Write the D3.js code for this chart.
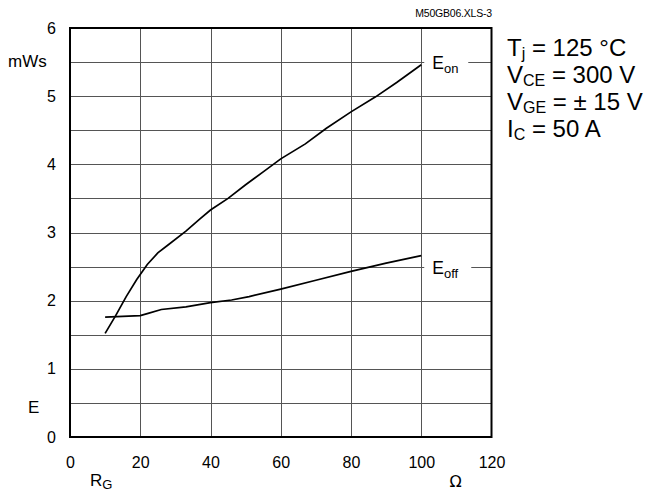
<!DOCTYPE html>
<html>
<head>
<meta charset="utf-8">
<script src="https://cdn.jsdelivr.net/npm/d3@7"></script>
<style>
  html, body { margin: 0; padding: 0; background: #fff; }
  svg { display: block; font-family: "Liberation Sans", Arial, sans-serif; }
</style>
</head>
<body>
<svg id="chart" width="652" height="493"></svg>
<script>
// Switching energy vs. gate resistance (Tj = 125 °C)
const rgOn  = [10, 13, 16, 19, 22, 25, 28, 33, 37, 40, 45, 50, 55, 60, 67, 73, 80, 87, 93, 100];
const eOn   = [1.52, 1.78, 2.06, 2.31, 2.53, 2.70, 2.82, 3.02, 3.20, 3.33, 3.50, 3.70, 3.89, 4.08, 4.30, 4.53, 4.77, 4.99, 5.20, 5.46];
const rgOff = [10, 15, 20, 22, 26, 33, 40, 46, 51, 60, 70, 80, 90, 100];
const eOff  = [1.76, 1.77, 1.78, 1.81, 1.87, 1.91, 1.97, 2.01, 2.06, 2.17, 2.30, 2.43, 2.55, 2.66];
const xTicks = [0, 20, 40, 60, 80, 100, 120];
const yTicks = [0, 1, 2, 3, 4, 5, 6];
const yGrid  = [0.5, 1, 1.5, 2, 2.5, 3, 3.5, 4, 4.5, 5, 5.5];
const conditions = [
  ["T", "j", " = 125 °C"],
  ["V", "CE", " = 300 V"],
  ["V", "GE", " = ± 15 V"],
  ["I", "C", " = 50 A"]
];

const svg = d3.select("#chart");
const x = d3.scaleLinear().domain([0, 120]).range([70, 491.5]);
const y = d3.scaleLinear().domain([0, 6]).range([437, 28]);

// grid
const grid = svg.append("g").attr("stroke", "#555").attr("stroke-width", 1);
grid.selectAll(".vx").data(xTicks.slice(1, -1)).join("line")
  .attr("x1", d => Math.round(x(d)) + 0.5).attr("x2", d => Math.round(x(d)) + 0.5)
  .attr("y1", y(6)).attr("y2", y(0));
grid.selectAll(".hy").data(yGrid).join("line")
  .attr("x1", x(0)).attr("x2", x(120))
  .attr("y1", d => Math.round(y(d)) + 0.5).attr("y2", d => Math.round(y(d)) + 0.5);

// frame
svg.append("rect")
  .attr("x", x(0)).attr("y", y(6))
  .attr("width", x(120) - x(0)).attr("height", y(0) - y(6))
  .attr("fill", "none").attr("stroke", "#000").attr("stroke-width", 2);

// tick labels via d3 axes
const xAxis = svg.append("g").attr("transform", `translate(0,${y(0)})`)
  .call(d3.axisBottom(x).tickValues(xTicks).tickFormat(d3.format("d")).tickSize(0).tickPadding(20));
const yAxis = svg.append("g").attr("transform", `translate(${x(0)},0)`)
  .call(d3.axisLeft(y).tickValues(yTicks).tickFormat(d3.format("d")).tickSize(0).tickPadding(14));
[xAxis, yAxis].forEach(a => {
  a.select(".domain").remove();
  a.selectAll("text").attr("font-size", 16).attr("fill", "#000")
    .attr("font-family", "Liberation Sans, Arial, sans-serif");
});

// curves
const line = d3.line().x(d => x(d[0])).y(d => y(d[1]));
svg.append("path").datum(d3.zip(rgOn, eOn)).attr("d", line)
  .attr("fill", "none").attr("stroke", "#000").attr("stroke-width", 1.7);
svg.append("path").datum(d3.zip(rgOff, eOff)).attr("d", line)
  .attr("fill", "none").attr("stroke", "#000").attr("stroke-width", 1.7);

// curve labels with a white backing that breaks the grid line
function curveLabel(main, sub, xv, yv, w) {
  const g = svg.append("g");
  g.append("rect").attr("x", x(xv) + 3).attr("y", y(yv) - 12)
    .attr("width", w).attr("height", 22).attr("fill", "#fff");
  const t = g.append("text").attr("x", x(xv) + 11).attr("y", y(yv) + 7)
    .attr("font-size", 17.5).attr("fill", "#000");
  t.append("tspan").text(main);
  t.append("tspan").attr("font-size", 13).attr("dy", 4).text(sub);
}
curveLabel("E", "on", 100, 5.5, 44);
curveLabel("E", "off", 100, 2.5, 47);

// axis titles
svg.append("text").attr("x", 8).attr("y", 67).attr("font-size", 17).text("mWs");
svg.append("text").attr("x", 28).attr("y", 413).attr("font-size", 17).text("E");
const rg = svg.append("text").attr("x", 90).attr("y", 486).attr("font-size", 17);
rg.append("tspan").text("R");
rg.append("tspan").attr("font-size", 13).attr("dy", 3).text("G");
svg.append("text").attr("x", x(110) - 7).attr("y", 487).attr("font-size", 16)
  .attr("font-family", "DejaVu Sans, sans-serif").text("Ω");

// file tag
svg.append("text").attr("x", 492).attr("y", 17).attr("text-anchor", "end")
  .attr("font-size", 10.5).attr("letter-spacing", -0.2).text("M50GB06.XLS-3");

// test conditions
conditions.forEach((c, i) => {
  const t = svg.append("text").attr("x", 507).attr("y", 56 + i * 27)
    .attr("font-size", 24).attr("fill", "#000");
  t.append("tspan").text(c[0]);
  t.append("tspan").attr("font-size", 16).attr("dy", 3).text(c[1]);
  t.append("tspan").attr("dy", -3).text(c[2]);
});
</script>
</body>
</html>
